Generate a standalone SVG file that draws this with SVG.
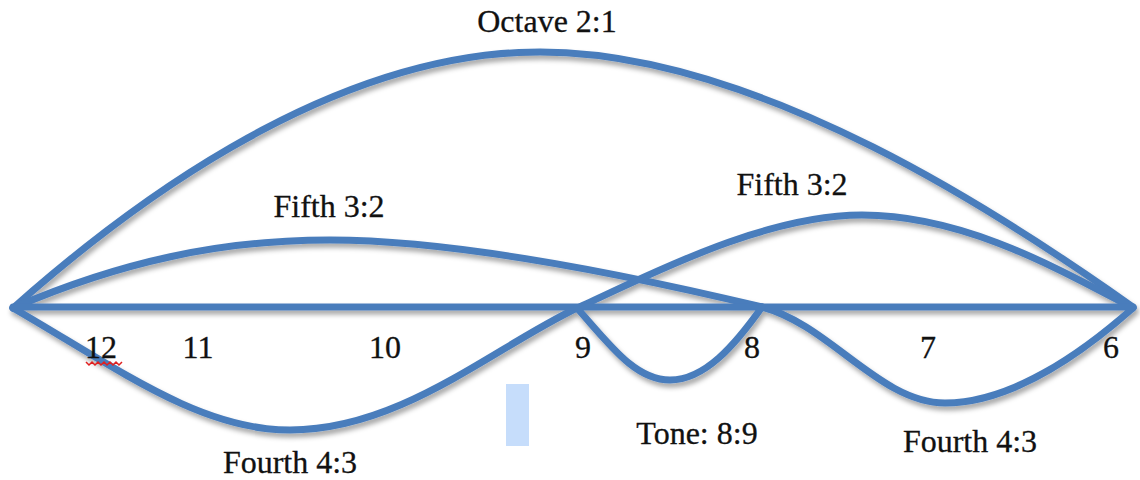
<svg xmlns="http://www.w3.org/2000/svg" width="1140" height="480" viewBox="0 0 1140 480">
<defs>
<filter id="sh" x="-10%" y="-20%" width="120%" height="140%">
<feDropShadow dx="2" dy="4" stdDeviation="2.5" flood-color="#000" flood-opacity="0.35"/>
</filter>
<style>
.c{fill:none;stroke:#4a7dbc;stroke-width:7;stroke-linecap:round;stroke-linejoin:round}
.t{font-family:"Liberation Serif",serif;font-size:32px;fill:#111;text-anchor:middle;stroke:#111;stroke-width:0.3}
</style>
</defs>
<rect width="1140" height="480" fill="#fff"/>
<rect id="marker-box" x="506" y="384" width="23" height="62" fill="#c6ddfb"/>
<g id="connectors" filter="url(#sh)">
<path id="octave" class="c" d="M13,308 C110,222 320,52 540,52 C760,52 1010,220 1133,307"/>
<path id="fifth-left-fourth-right" class="c" d="M13,308 C120,262 220,240 330,240 C470,240 670,285 762,307 C830,325 880,403 945,403 C1010,403 1080,355 1133,308"/>
<path id="fourth-left-fifth-right" class="c" d="M13,308 C120,370 200,430 290,430 C400,430 490,350 577,308 C640,280 760,215 862,215 C965,215 1060,270 1133,308"/>
<path id="baseline" class="c" d="M13,307 L1133,307"/>
<path id="tone" class="c" d="M577,308 C610,345 635,380 670,380 C705,380 735,345 762,307"/>
</g>
<g id="labels">
<text class="t" x="547" y="32">Octave 2:1</text>
<text class="t" x="329" y="217">Fifth 3:2</text>
<text class="t" x="792" y="195">Fifth 3:2</text>
<text class="t" x="697" y="444">Tone: 8:9</text>
<text class="t" x="290" y="473">Fourth 4:3</text>
<text class="t" x="970" y="452">Fourth 4:3</text>
</g>
<g id="nodes">
<g id="n12"><text class="t" x="101" y="358">12</text><path d="M86,362 l3,3 3,-3 3,3 3,-3 3,3 3,-3 3,3 3,-3 3,3 3,-3 3,3 3,-3" fill="none" stroke="#e02020" stroke-width="1.5"/></g>
<g id="n11"><text class="t" x="198" y="358">11</text></g>
<g id="n10"><text class="t" x="385" y="358">10</text></g>
<g id="n9"><text class="t" x="583" y="358">9</text></g>
<g id="n8"><text class="t" x="752" y="358">8</text></g>
<g id="n7"><text class="t" x="928" y="358">7</text></g>
<g id="n6"><text class="t" x="1111" y="358">6</text></g>
</g>
</svg>
